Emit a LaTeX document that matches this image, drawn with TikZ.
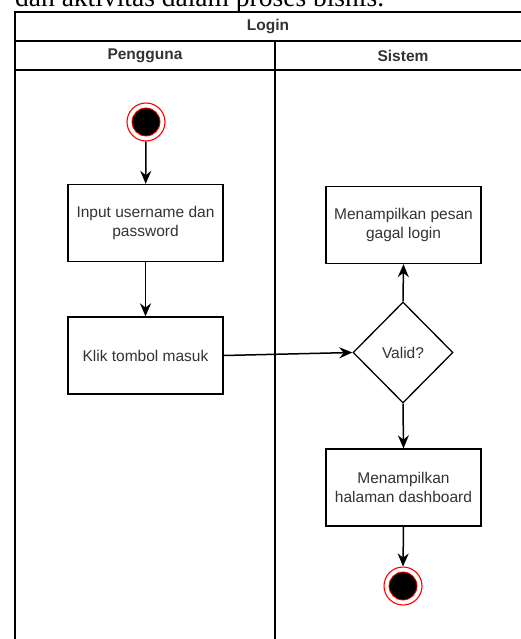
\documentclass[tikz,border=0pt]{standalone}
\usepackage{fontspec}
\setmainfont{Liberation Sans}
\newfontfamily\serifhead{Liberation Serif}
\usetikzlibrary{shapes.geometric,arrows.meta}
\definecolor{txt}{HTML}{333333}
\begin{document}
\begin{tikzpicture}[x=1pt,y=-1pt,
  lane/.style={draw=black,line width=1.3pt},
  actbox/.style={draw=black,line width=1.3pt,fill=white,minimum width=155pt,minimum height=77pt,
    align=center,text=txt,font=\fontsize{15.5}{19}\selectfont,inner sep=2pt},
  decis/.style={diamond,draw=black,line width=1.3pt,fill=white,minimum width=100pt,minimum height=101pt,
    inner sep=0pt,text=txt,font=\fontsize{15.5}{19}\selectfont},
  hdr/.style={text=txt,font=\fontsize{15.5}{18}\selectfont\bfseries},
  flow/.style={draw=black,line width=1.5pt,-{Stealth[length=13pt,width=11pt]}},
  outerring/.style={circle,draw=red,line width=1.1pt,minimum size=38pt,inner sep=0pt},
  innerdot/.style={circle,draw=red,fill=black,line width=0.8pt,minimum size=28pt,inner sep=0pt}]
\useasboundingbox (0,0) rectangle (521,639);
\clip (0,0) rectangle (521,639);
% cut-off text line above the figure
\node[anchor=base west,inner sep=0pt,font=\fontsize{27.5}{30}\serifhead] (caption) at (15,7) {dan aktivitas dalam proses bisnis.};
% swimlane frame
\draw[lane] (15,700) -- (15,12) -- (540,12);
\draw[lane] (15,41) -- (540,41);
\draw[lane] (15,70) -- (540,70);
\draw[lane] (275,41) -- (275,700);
\node[hdr] (login) at (268,27) {Login};
\node[hdr] (pengguna) at (145,56) {Pengguna};
\node[hdr] (sistem) at (403,56) {Sistem};
% start node
\node[outerring] (start) at (146,122) {};
\node[innerdot] at (146,122) {};
% activities
\node[actbox] (input) at (145.5,223) {Input username dan\\password};
\node[actbox] (klik) at (145.5,355.5) {Klik tombol masuk};
\node[actbox] (gagal) at (403.5,225) {Menampilkan pesan\\gagal login};
\node[decis] (valid) at (403,352.5) {Valid?};
\node[actbox] (dash) at (403.5,487.5) {Menampilkan\\halaman dashboard};
% end node
\node[outerring] (end) at (403,586) {};
\node[innerdot] at (403,586) {};
% connectors
\draw[flow] (start) -- (input);
\draw[flow] (input) -- (klik);
\draw[flow] (klik.east) -- (valid.west);
\draw[flow] (valid.north) -- (gagal.south);
\draw[flow] (valid.south) -- (dash.north);
\draw[flow] (dash.south) -- (end.north);
\end{tikzpicture}
\end{document}
